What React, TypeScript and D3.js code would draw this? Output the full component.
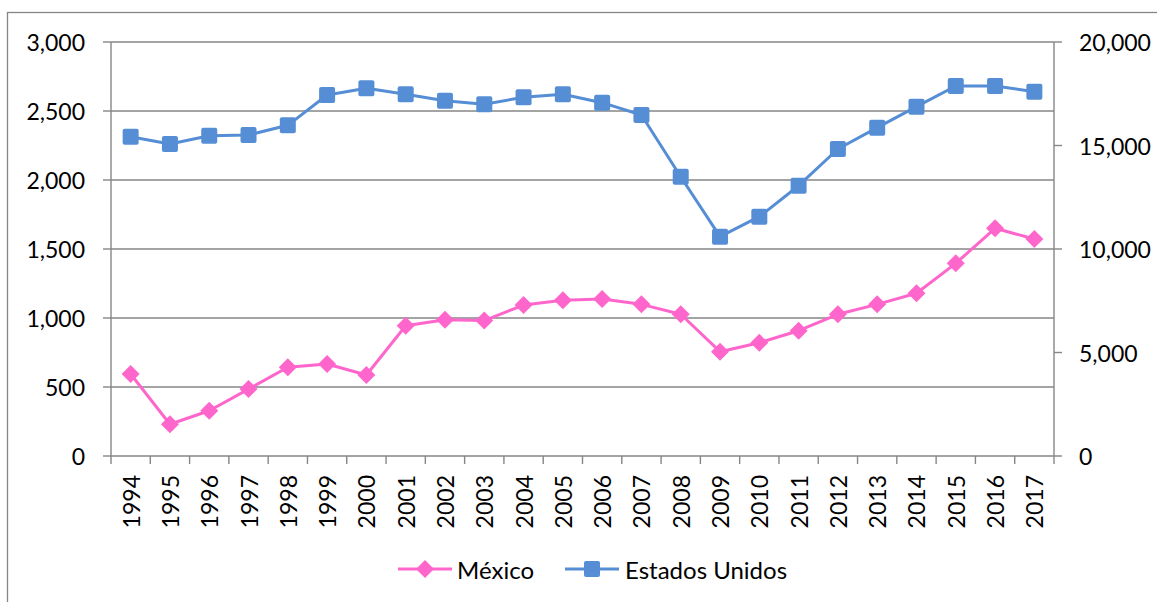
import React from "react";
import * as d3 from "d3";

const years = ["1994","1995","1996","1997","1998","1999","2000","2001","2002","2003","2004","2005","2006","2007","2008","2009","2010","2011","2012","2013","2014","2015","2016","2017"];
const mexico = [594, 230, 328, 485, 643, 667, 587, 944, 988, 981, 1094, 1128, 1138, 1099, 1027, 756, 821, 908, 1027, 1099, 1179, 1396, 1650, 1572];
const usa = [15426, 15072, 15474, 15507, 15975, 17440, 17763, 17474, 17166, 16990, 17329, 17474, 17068, 16474, 13493, 10595, 11561, 13058, 14831, 15861, 16875, 17875, 17875, 17600];
const leftTicks = [0, 500, 1000, 1500, 2000, 2500, 3000];
const rightTicks = [0, 5000, 10000, 15000, 20000];

const W = 1157, H = 602;
const FONT = "Lato, 'Open Sans', sans-serif";
const PINK = "#FF66CC";
const BLUE = "#558ED5";
const GRID = "#868686";

export default function App() {
  const left = 111, right = 1054, top = 42, bottom = 456;
  const x = d3.scaleBand<string>().domain(years).range([left, right]);
  const yL = d3.scaleLinear().domain([0, 3000]).range([bottom, top]);
  const yR = d3.scaleLinear().domain([0, 20000]).range([bottom, top]);
  const fmt = d3.format(",");
  const cx = (y: string) => (x(y) as number) + x.bandwidth() / 2;

  const lineM = d3.line<number>().x((_, i) => cx(years[i])).y((d) => yL(d));
  const lineU = d3.line<number>().x((_, i) => cx(years[i])).y((d) => yR(d));

  const diamond = (px: number, py: number, key: string | number) => (
    <path key={key} d={`M${px},${py - 9}L${px + 9},${py}L${px},${py + 9}L${px - 9},${py}Z`} fill={PINK} />
  );
  const square = (px: number, py: number, key: string | number) => (
    <rect key={key} x={px - 8} y={py - 8} width={16} height={16} rx={2} fill={BLUE} />
  );

  const bandEdges = years.map((y) => x(y) as number).concat([right]);
  const fs = 23;

  return (
    <svg width={W} height={H} style={{ position: "absolute", left: 0, top: 0 }} fontFamily={FONT}>
      <rect x={0} y={0} width={W} height={H} fill="#fff" />
      <rect x={7.5} y={12.5} width={W + 10} height={H + 10} fill="none" stroke={GRID} strokeWidth={1.3} />
      {leftTicks.map((t) => (
        <line key={"g" + t} x1={left} x2={right} y1={yL(t)} y2={yL(t)} stroke={GRID} strokeWidth={1.4} />
      ))}
      <line x1={left} x2={left} y1={top} y2={bottom} stroke={GRID} strokeWidth={1.4} />
      {leftTicks.map((t) => (
        <g key={"lt" + t}>
          <line x1={left - 8} x2={left} y1={yL(t)} y2={yL(t)} stroke={GRID} strokeWidth={1.4} />
          <text x={85} y={yL(t)} textAnchor="end" dominantBaseline="central" fontSize={fs} fill="#000">{fmt(t)}</text>
        </g>
      ))}
      <line x1={right} x2={right} y1={top} y2={bottom} stroke={GRID} strokeWidth={1.4} />
      {rightTicks.map((t) => (
        <g key={"rt" + t}>
          <line x1={right} x2={right + 8} y1={yR(t)} y2={yR(t)} stroke={GRID} strokeWidth={1.4} />
          <text x={1079} y={yR(t)} textAnchor="start" dominantBaseline="central" fontSize={fs} fill="#000">{fmt(t)}</text>
        </g>
      ))}
      {bandEdges.map((e, i) => (
        <line key={"bt" + i} x1={e} x2={e} y1={bottom} y2={bottom + 8} stroke={GRID} strokeWidth={1.4} />
      ))}
      {years.map((y) => (
        <text key={"xl" + y} transform={`translate(${cx(y)},475) rotate(-90)`} textAnchor="end" dominantBaseline="central" fontSize={fs} fill="#000">{y}</text>
      ))}
      <path d={lineM(mexico) as string} fill="none" stroke={PINK} strokeWidth={3} strokeLinejoin="round" />
      {mexico.map((v, i) => diamond(cx(years[i]), yL(v), "m" + i))}
      <path d={lineU(usa) as string} fill="none" stroke={BLUE} strokeWidth={3} strokeLinejoin="round" />
      {usa.map((v, i) => square(cx(years[i]), yR(v), "u" + i))}
      <line x1={398} x2={452} y1={569} y2={569} stroke={PINK} strokeWidth={3} />
      {diamond(425, 569, "lm")}
      <text x={457} y={569} dominantBaseline="central" fontSize={fs + 1} fill="#000">México</text>
      <line x1={565} x2={619} y1={569} y2={569} stroke={BLUE} strokeWidth={3} />
      {square(592, 569, "lu")}
      <text x={625} y={569} dominantBaseline="central" fontSize={fs + 1} fill="#000">Estados Unidos</text>
    </svg>
  );
}
